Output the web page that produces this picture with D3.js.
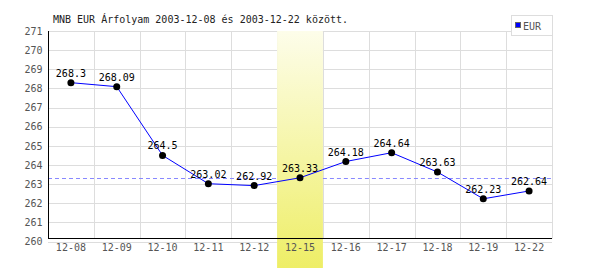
<!DOCTYPE html>
<html>
<head>
<meta charset="utf-8">
<script src="https://cdn.jsdelivr.net/npm/d3@7"></script>
<style>
  body { margin: 0; background: #fff; }
  svg text { font-family: "DejaVu Sans Mono", monospace; font-size: 10px; }
</style>
</head>
<body>
<svg id="chart" width="600" height="270"></svg>
<script>
// napi árfolyamok
const days = ['12-08', '12-09', '12-10', '12-11', '12-12', '12-15', '12-16', '12-17', '12-18', '12-19', '12-22'];
const eurValues = [268.3, 268.09, 264.5, 263.02, 262.92, 263.33, 264.18, 264.64, 263.63, 262.23, 262.64];
const yTicks = [260, 261, 262, 263, 264, 265, 266, 267, 268, 269, 270, 271];
const highlightDay = '12-15';
const title = 'MNB EUR Árfolyam 2003-12-08 és 2003-12-22 között.';
const seriesName = 'EUR';

const svg = d3.select('#chart');
const [plotLeft, plotRight, plotTop, axisY] = [48, 552, 31, 238.5];

const x = d3.scaleBand(days, [plotLeft, plotRight]).paddingInner(0).paddingOuter(0);
const y = d3.scaleLinear([260, 271], [241.5, plotTop]);

// gradient a kiemelt naphoz
const grad = svg.append('defs').append('linearGradient')
  .attr('id', 'hl').attr('x1', 0).attr('y1', 0).attr('x2', 0).attr('y2', 1);
grad.append('stop').attr('offset', '0%').attr('stop-color', '#fdfdea');
grad.append('stop').attr('offset', '100%').attr('stop-color', '#eeee66');

// rács
svg.append('g')
  .selectAll('line')
  .data(yTicks)
  .join('line')
  .attr('x1', plotLeft).attr('x2', plotRight)
  .attr('y1', d => Math.round(y(d)) + 0.5).attr('y2', d => Math.round(y(d)) + 0.5)
  .attr('stroke', '#dddddd');

svg.append('g')
  .selectAll('line')
  .data(days)
  .join('line')
  .attr('x1', d => Math.round(x(d) + x.bandwidth()) + 0.5)
  .attr('x2', d => Math.round(x(d) + x.bandwidth()) + 0.5)
  .attr('y1', plotTop).attr('y2', axisY)
  .attr('stroke', '#dddddd');

// kiemelt nap
svg.append('rect')
  .attr('x', x(highlightDay))
  .attr('y', plotTop)
  .attr('width', x.bandwidth())
  .attr('height', 268 - plotTop)
  .attr('fill', 'url(#hl)');

// referencia vonal (kiemelt nap értéke)
const refValue = eurValues[days.indexOf(highlightDay)];
const refY = Math.round(y(refValue)) + 0.5;
[[plotLeft, x(highlightDay)], [x(highlightDay) + x.bandwidth(), plotRight]].forEach(([a, b]) => {
  svg.append('line')
    .attr('x1', a).attr('x2', b)
    .attr('y1', refY).attr('y2', refY)
    .attr('stroke', '#8888ff')
    .attr('stroke-dasharray', '4,3');
});

// tengelyek
svg.append('g')
  .attr('transform', `translate(0,${axisY})`)
  .call(d3.axisBottom(x).tickSize(0).tickPadding(5).tickSizeOuter(0))
  .call(g => g.select('.domain').attr('stroke', '#000').attr('d', `M${plotLeft},0H${plotRight}`))
  .call(g => g.selectAll('text').attr('fill', '#555').style('font-size', '10px').style('font-family', '"DejaVu Sans Mono", monospace'));

svg.append('g')
  .attr('transform', `translate(${plotLeft + 0.5},0)`)
  .call(d3.axisLeft(y).tickValues(yTicks).tickFormat(d3.format('d')).tickSize(0).tickPadding(6))
  .call(g => g.select('.domain').attr('stroke', '#000').attr('d', `M0,${plotTop}V${axisY}`))
  .call(g => g.selectAll('text').attr('fill', '#555').style('font-size', '10px').style('font-family', '"DejaVu Sans Mono", monospace'));

// adatsor
const cx = d => x(d) + x.bandwidth() / 2;
svg.append('path')
  .attr('fill', 'none')
  .attr('stroke', '#0000ff')
  .attr('stroke-width', 1)
  .attr('d', d3.line().x((d, i) => cx(days[i])).y(d => y(d))(eurValues));

svg.append('g')
  .selectAll('circle')
  .data(eurValues)
  .join('circle')
  .attr('cx', (d, i) => cx(days[i]))
  .attr('cy', d => y(d))
  .attr('r', 3.5)
  .attr('fill', '#000');

svg.append('g')
  .selectAll('text')
  .data(eurValues)
  .join('text')
  .attr('x', (d, i) => cx(days[i]))
  .attr('y', d => y(d) - 6)
  .attr('text-anchor', 'middle')
  .attr('fill', '#000')
  .text(d => d);

// cím
svg.append('text')
  .attr('x', 53).attr('y', 23)
  .attr('fill', '#222')
  .text(title);

// jelmagyarázat
const legend = svg.append('g');
legend.append('rect')
  .attr('x', 511.5).attr('y', 15.5).attr('width', 41).attr('height', 20)
  .attr('fill', '#fff').attr('stroke', '#dddddd');
legend.append('rect')
  .attr('x', 515.5).attr('y', 22.5).attr('width', 5).attr('height', 5)
  .attr('fill', '#0000ff').attr('stroke', '#666');
legend.append('text')
  .attr('x', 523).attr('y', 29.5)
  .attr('fill', '#555')
  .text(seriesName);
</script>
</body>
</html>
